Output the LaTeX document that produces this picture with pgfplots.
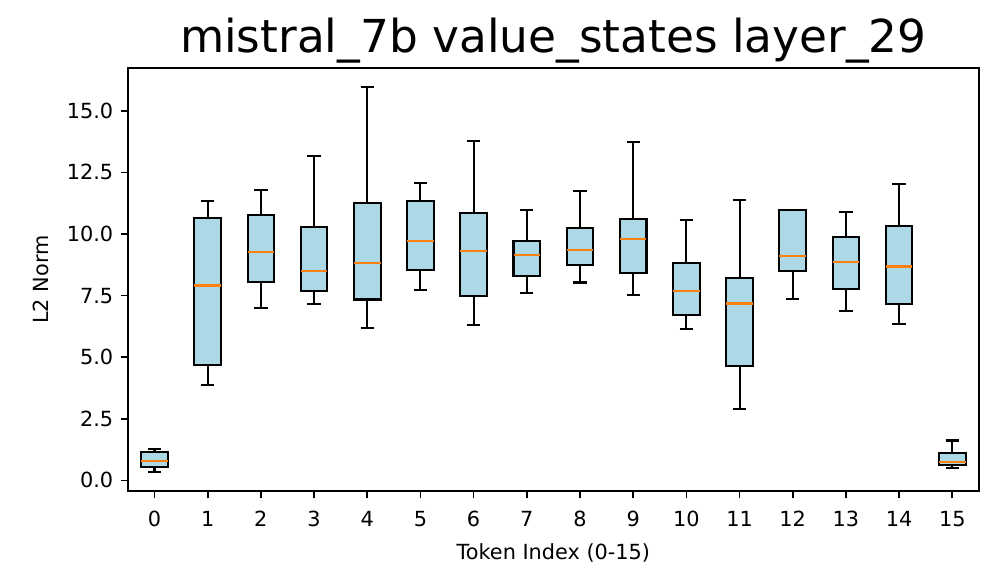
\documentclass[border=0pt]{standalone}
\usepackage{fontspec}
\setmainfont{DejaVu Sans}
\usepackage{pgfplots}
\pgfplotsset{compat=1.18}
\usepgfplotslibrary{statistics}
\definecolor{boxfill}{HTML}{ADD8E6}
\definecolor{medorange}{HTML}{FF7F0E}

% boxplot helper: #1 = position, then lower whisker, Q1, median, Q3, upper whisker
\newcommand{\tokbox}[6]{%
  \addplot[boxplot prepared={draw position=#1, lower whisker=#2, lower quartile=#3,
      median=#4, upper quartile=#5, upper whisker=#6}]
    coordinates {};
}

\begin{document}
\begin{tikzpicture}
\path[use as bounding box] (0,0) rectangle (478.6pt,281.8pt);
\begin{axis}[
    at={(61.4pt,46.1pt)}, anchor=south west,
    scale only axis, width=408.5pt, height=203pt,
    xmin=-0.5, xmax=15.5, ymin=-0.43, ymax=16.73,
    xtick={0,1,...,15},
    ytick={0,2.5,5,7.5,10,12.5,15},
    yticklabel style={/pgf/number format/.cd, fixed, fixed zerofill, precision=1},
    xticklabel style={yshift=-2.5pt},
    /pgf/number format/assume math mode=true,
    tick align=outside, major tick length=3.5pt,
    xtick pos=left, ytick pos=left,
    tick style={black, line width=0.8pt},
    axis line style={line width=0.8pt},
    ticklabel style={font=\fontsize{10}{12}\selectfont},
    xlabel={Token Index (0-15)}, ylabel={L2 Norm},
    label style={font=\fontsize{10}{12}\selectfont},
    xlabel style={yshift=-1.5pt},
    ylabel style={yshift=2pt},
    title={mistral\_7b value\_states layer\_29},
    title style={font=\fontsize{21.8}{26}\selectfont, at={(0.5,1)}, anchor=base, yshift=1.7pt},
    boxplot/draw direction=y,
    boxplot/box extend=0.5,
    boxplot/whisker extend=0.25,
    boxplot/every box/.style={draw=black, fill=boxfill, line width=1pt},
    boxplot/every whisker/.style={black, line width=1pt},
    boxplot/every median/.style={medorange, line width=1pt},
]
\tokbox{0}{0.35}{0.53}{0.80}{1.16}{1.26}
\tokbox{1}{3.88}{4.70}{7.91}{10.64}{11.34}
\tokbox{2}{6.99}{8.04}{9.27}{10.77}{11.80}
\tokbox{3}{7.14}{7.70}{8.51}{10.27}{13.18}
\tokbox{4}{6.18}{7.34}{8.82}{11.24}{15.95}
\tokbox{5}{7.73}{8.53}{9.72}{11.32}{12.05}
\tokbox{6}{6.30}{7.47}{9.31}{10.84}{13.77}
\tokbox{7}{7.59}{8.28}{9.15}{9.73}{10.97}
\tokbox{8}{8.03}{8.74}{9.36}{10.24}{11.73}
\tokbox{9}{7.53}{8.41}{9.78}{10.59}{13.74}
\tokbox{10}{6.16}{6.73}{7.70}{8.82}{10.57}
\tokbox{11}{2.91}{4.65}{7.18}{8.20}{11.38}
\tokbox{12}{7.36}{8.51}{9.09}{10.97}{10.97}
\tokbox{13}{6.86}{7.78}{8.88}{9.86}{10.89}
\tokbox{14}{6.35}{7.15}{8.68}{10.31}{12.04}
\tokbox{15}{0.50}{0.61}{0.76}{1.12}{1.62}
\end{axis}
\end{tikzpicture}
\end{document}
